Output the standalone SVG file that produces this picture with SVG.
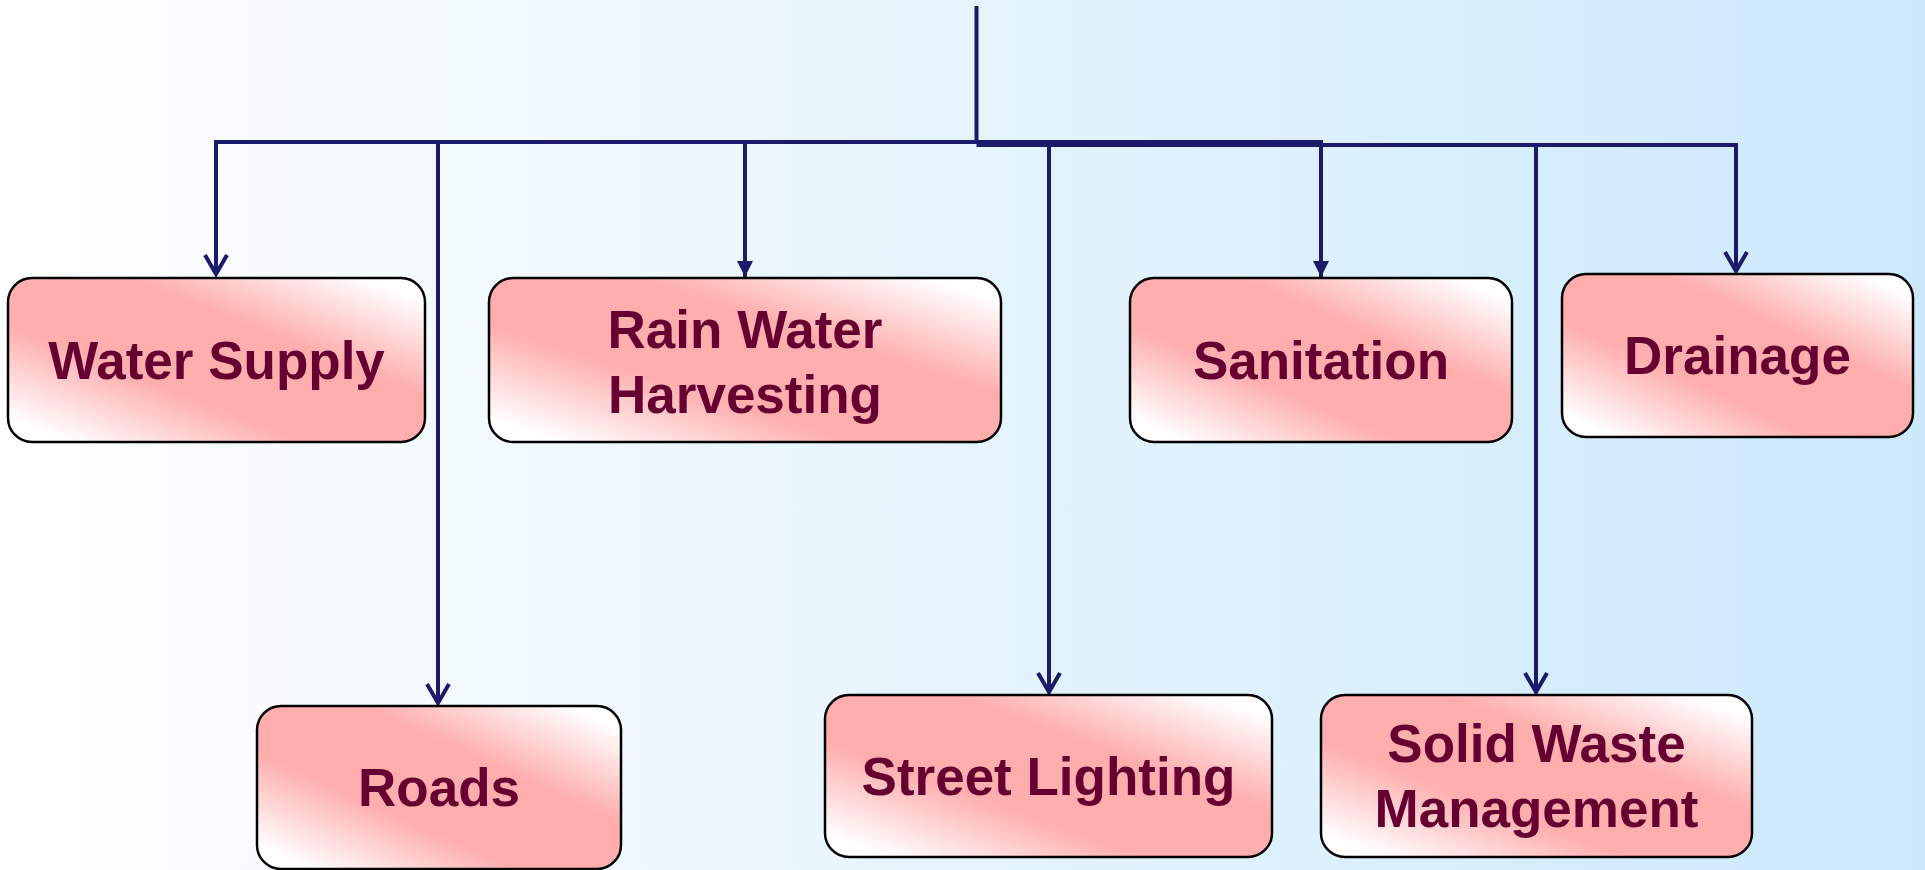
<svg xmlns="http://www.w3.org/2000/svg" width="1925" height="870" viewBox="0 0 1925 870">
<defs>
<linearGradient id="bg" x1="0" y1="0" x2="1" y2="0">
<stop offset="0" stop-color="#ffffff"/>
<stop offset="1" stop-color="#cce9fc"/>
</linearGradient>
<linearGradient id="boxfill" x1="1" y1="0" x2="0" y2="1">
<stop offset="0" stop-color="#ffffff"/>
<stop offset="0.07" stop-color="#ffffff"/>
<stop offset="0.36" stop-color="#ffadad"/>
<stop offset="0.64" stop-color="#ffadad"/>
<stop offset="0.93" stop-color="#ffffff"/>
<stop offset="1" stop-color="#ffffff"/>
</linearGradient>
<marker id="openArrow" markerUnits="userSpaceOnUse" orient="auto" refX="0" refY="0" markerWidth="40" markerHeight="40" viewBox="-20 -20 40 40" overflow="visible">
<path d="M-19,-11 L0,0 L-19,11" fill="none" stroke="#1c1a6a" stroke-width="4"/>
</marker>
<marker id="fillArrow" markerUnits="userSpaceOnUse" orient="auto" refX="0" refY="0" markerWidth="40" markerHeight="40" viewBox="-20 -20 40 40" overflow="visible">
<path d="M-16,-8 L0,0 L-16,8 Z" fill="#1c1a6a"/>
</marker>
</defs>
<style>
.box{fill:url(#boxfill);stroke:#000;stroke-width:2.5}
.lbl{font-family:"Liberation Sans",Arial,sans-serif;font-weight:bold;font-size:53px;fill:#660033;text-anchor:middle}
.c{fill:none;stroke:#1c1a6a;stroke-width:4}
</style>
<rect x="0" y="0" width="1925" height="870" fill="url(#bg)"/>
<g id="connectors">
<path class="c" d="M976.5 6 V143"/>
<path class="c" d="M1321 142 H216 V274" marker-end="url(#openArrow)"/>
<path class="c" d="M438 142 V703" marker-end="url(#openArrow)"/>
<path class="c" d="M745 142 V277" marker-end="url(#fillArrow)"/>
<path class="c" d="M1321 140 V277" marker-end="url(#fillArrow)"/>
<path class="c" d="M976.5 145 H1736 V271" marker-end="url(#openArrow)"/>
<path class="c" d="M1049 145 V692" marker-end="url(#openArrow)"/>
<path class="c" d="M1536 145 V692" marker-end="url(#openArrow)"/>
</g>
<g id="water-supply">
<rect class="box" x="8" y="278" width="417" height="164" rx="24"/>
<text class="lbl" x="216.5" y="379">Water Supply</text>
</g>
<g id="roads">
<rect class="box" x="257" y="706" width="364" height="163" rx="24"/>
<text class="lbl" x="439" y="806">Roads</text>
</g>
<g id="rain-water-harvesting">
<rect class="box" x="489" y="278" width="512" height="164" rx="24"/>
<text class="lbl" x="745" y="348">Rain Water</text>
<text class="lbl" x="745" y="413">Harvesting</text>
</g>
<g id="street-lighting">
<rect class="box" x="825" y="695" width="447" height="162" rx="24"/>
<text class="lbl" x="1048.5" y="795">Street Lighting</text>
</g>
<g id="sanitation">
<rect class="box" x="1130" y="278" width="382" height="164" rx="24"/>
<text class="lbl" x="1321" y="379">Sanitation</text>
</g>
<g id="solid-waste-management">
<rect class="box" x="1321" y="695" width="431" height="162" rx="24"/>
<text class="lbl" x="1536.5" y="762">Solid Waste</text>
<text class="lbl" x="1536.5" y="827">Management</text>
</g>
<g id="drainage">
<rect class="box" x="1562" y="274" width="351" height="163" rx="24"/>
<text class="lbl" x="1737.5" y="374">Drainage</text>
</g>
</svg>
